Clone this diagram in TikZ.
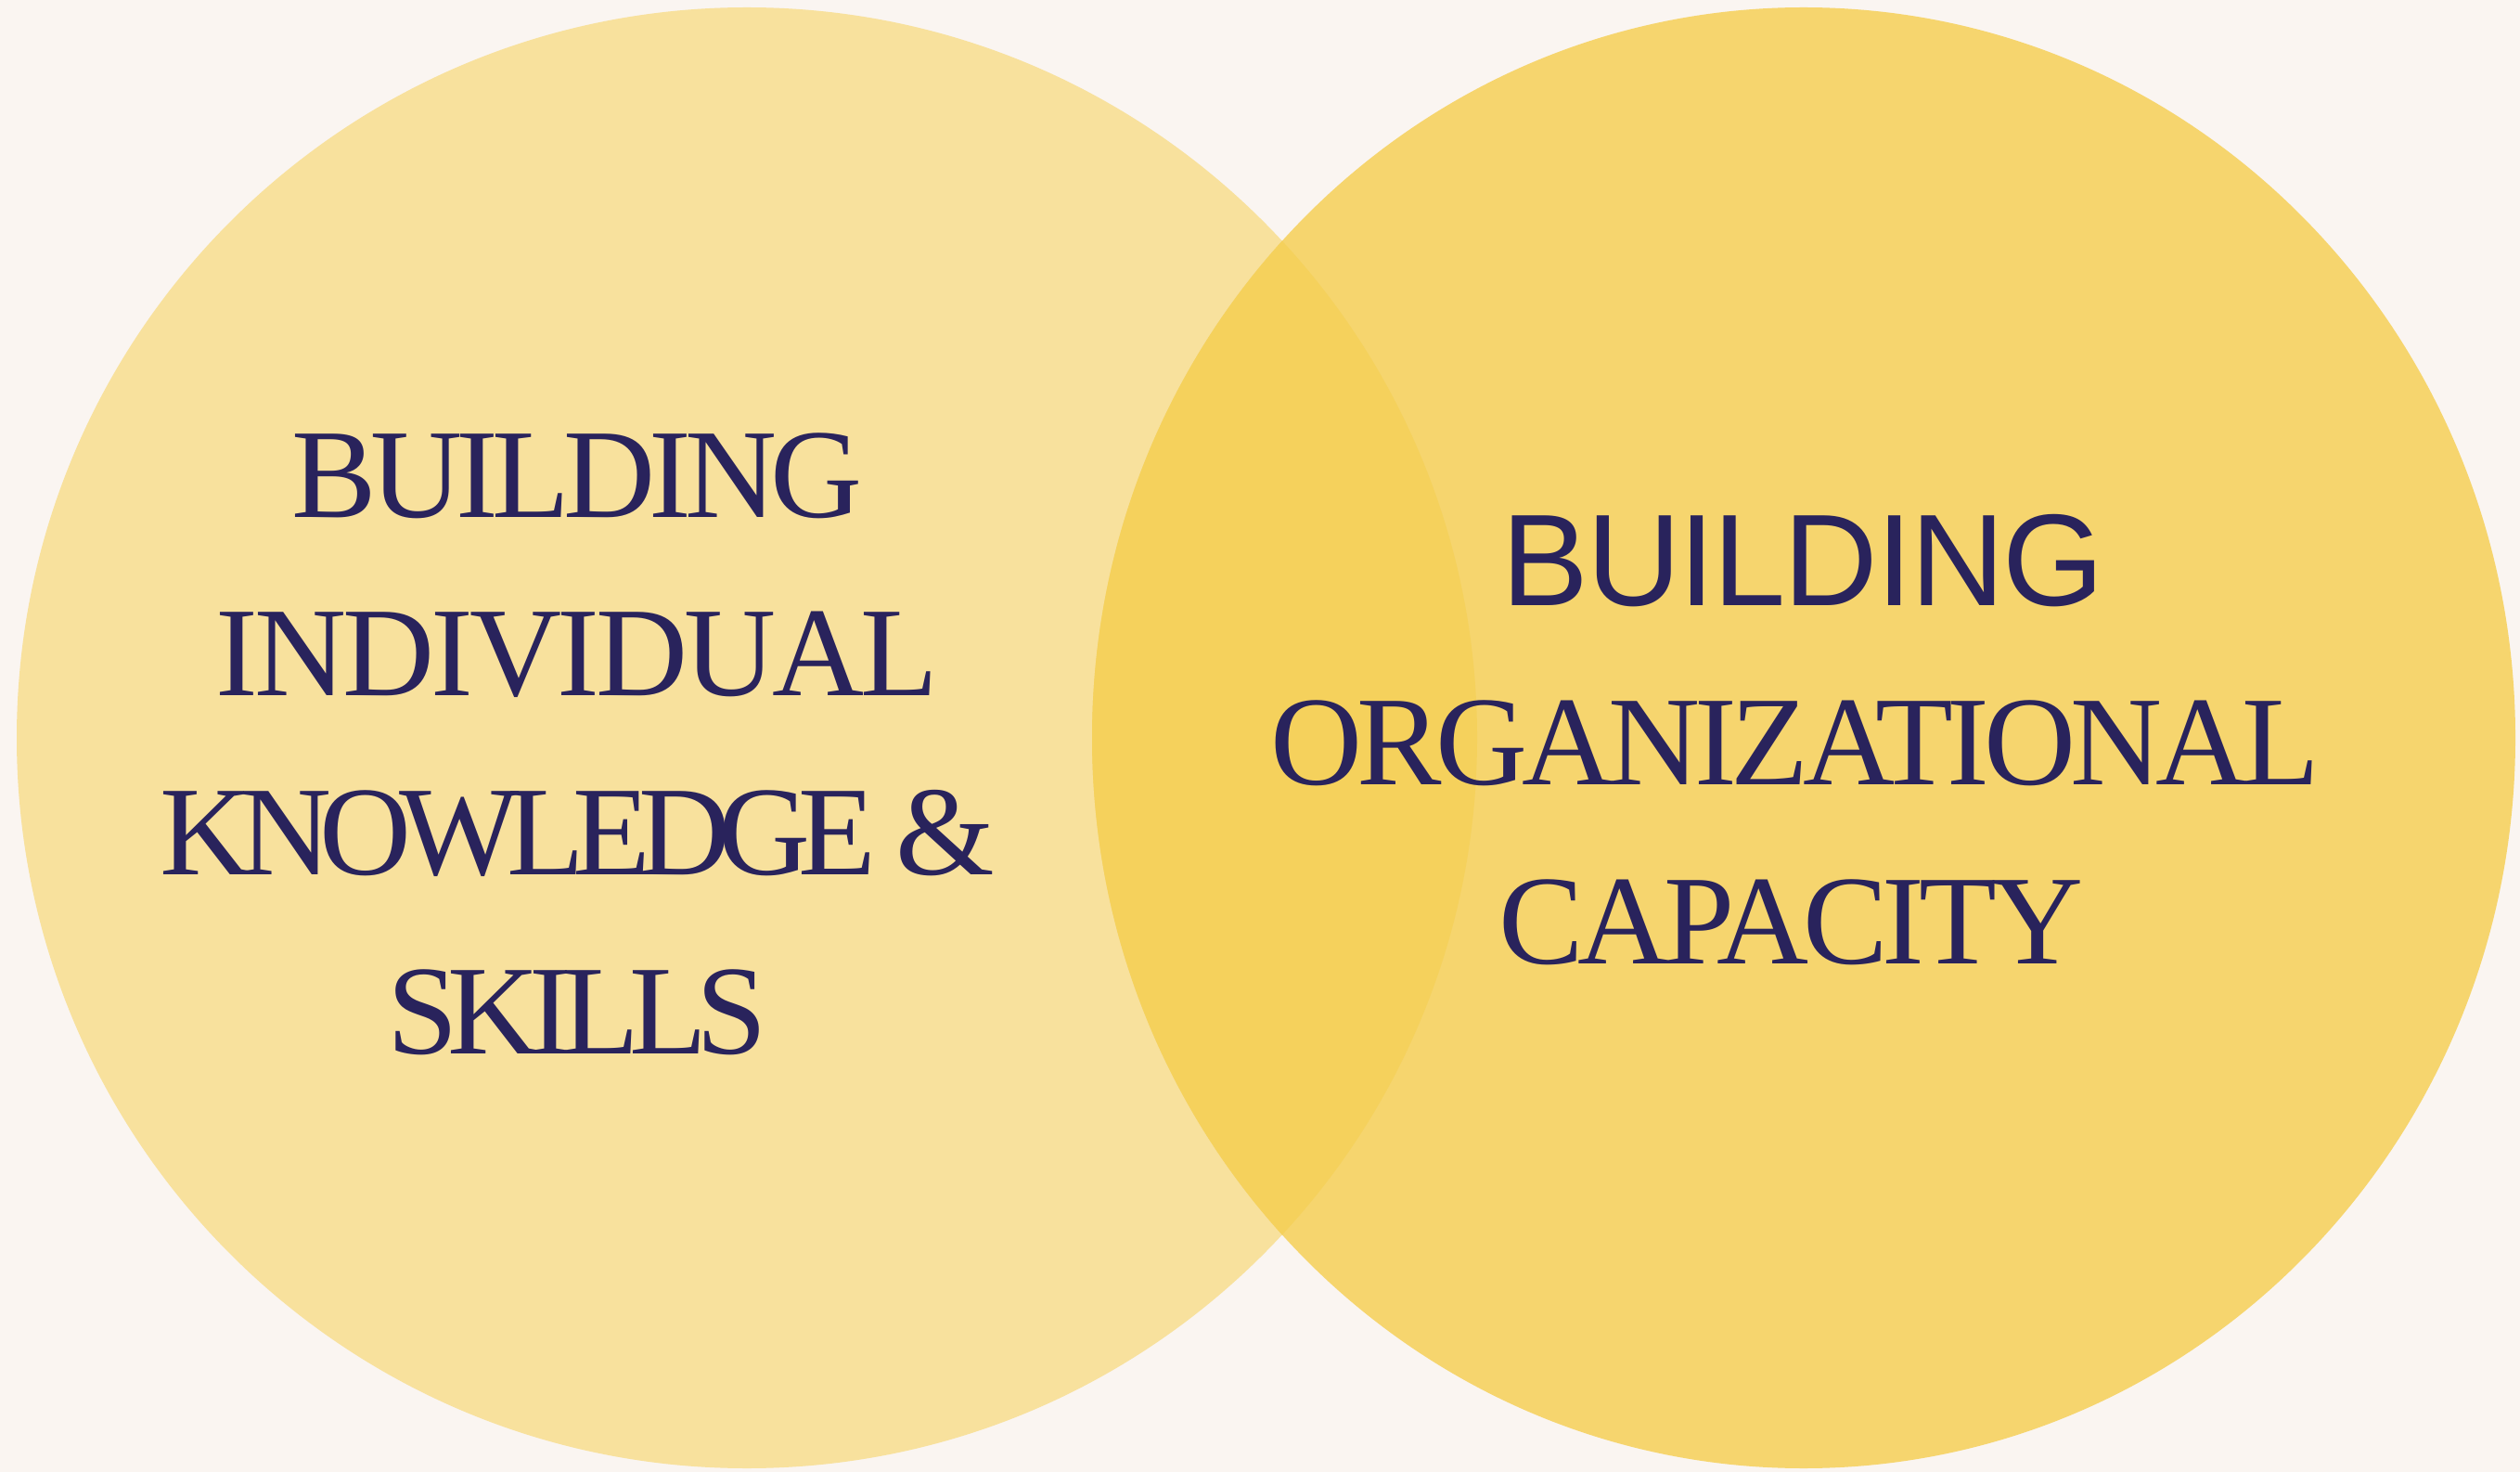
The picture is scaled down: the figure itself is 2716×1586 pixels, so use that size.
\documentclass[tikz,border=0pt]{standalone}
\usepackage{fontspec}
\setmainfont{Liberation Serif}
\setsansfont{Liberation Sans}

\definecolor{paper}{HTML}{FAF5F1}
\definecolor{leftfill}{HTML}{F8E19D}
\definecolor{rightfill}{HTML}{F6D56E}
\definecolor{overlapfill}{HTML}{F5D15C}
\definecolor{ink}{HTML}{29235C}

\tikzset{
  word/.style={anchor=base,inner sep=0pt,text=ink,font=\fontsize{39}{47}\selectfont},
}

\begin{document}
\begin{tikzpicture}[x=0.01cm,y=-0.01cm]
    \fill[paper] (0,0) rectangle (2716,1586);
    \useasboundingbox (0,0) rectangle (2716,1586);

    % the two sets
    \fill[leftfill] (805,795) circle [radius=787];
    \fill[rightfill] (1944,795) ellipse [x radius=767,y radius=787];
    \begin{scope}
      \clip (805,795) circle [radius=787];
      \fill[overlapfill] (1944,795) ellipse [x radius=767,y radius=787];
    \end{scope}

    % left set
    \node[word] (l1) at (622,558) {\addfontfeature{LetterSpace=-5}BUILDING};
    \node[word] (l2) at (622,750) {\addfontfeature{LetterSpace=-3}INDIVIDUAL};
    \node[word] (l3) at (622,942) {\addfontfeature{LetterSpace=-9.5}KNOWLEDGE \&};
    \node[word] (l4) at (622,1135) {\addfontfeature{LetterSpace=-8}SKILLS};

    % right set
    \node[word,font=\sffamily\fontsize{40}{48}\selectfont] (r1) at (1943,653) {\addfontfeature{LetterSpace=-1.5}BUILDING};
    \node[word] (r2) at (1935,845) {\addfontfeature{LetterSpace=-4.5}ORGANIZATIONAL};
    \node[word] (r3) at (1930,1038) {\addfontfeature{LetterSpace=-4.5}CAPACITY};
  \end{tikzpicture}
\end{document}
